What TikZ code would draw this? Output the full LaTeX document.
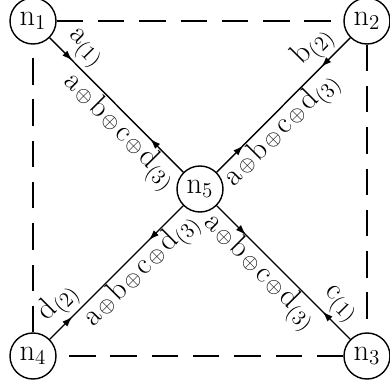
\documentclass[tikz,border=0pt]{standalone}
\usepackage{amsmath,amssymb}
\usepackage{tikz}
\usetikzlibrary{arrows.meta,decorations.markings}

\newcommand{\oplusx}{\mskip1.5mu{\scriptstyle\oplus}\mskip1.5mu}
\newcommand{\sumabcd}{$\mathrm{a}\oplusx\mathrm{b}\oplusx\mathrm{c}\oplusx\mathrm{d}_{(3)}$}

\begin{document}
\begin{tikzpicture}[
    nd/.style={draw, thick, circle, minimum size=0.92cm, inner sep=0pt, font=\LARGE},
    link/.style={draw, thick},
    frame/.style={draw, thick, dash pattern=on 15pt off 8.5pt},
    lbl/.style={sloped, font=\LARGE, inner sep=2pt},
    sumlbl/.style={sloped, font=\LARGE, inner sep=0.5pt},
    twoarr/.style 2 args={postaction={decorate}, decoration={markings,
        mark=at position #1 with {\arrow{Latex[length=6pt,width=4pt]}},
        mark=at position #2 with {\arrow{Latex[length=6pt,width=4pt,reversed]}}}}
]
    \useasboundingbox (0,0) rectangle (7.78,7.84);

    \node[nd] (n1) at (0.66,7.42) {$\mathrm{n}_1$};
    \node[nd] (n2) at (7.34,7.42) {$\mathrm{n}_2$};
    \node[nd] (n3) at (7.34,0.72) {$\mathrm{n}_3$};
    \node[nd] (n4) at (0.66,0.72) {$\mathrm{n}_4$};
    \node[nd] (n5) at (4.00,4.06) {$\mathrm{n}_5$};

    % outer square
    \draw[frame] (n1) -- (n2);
    \draw[frame] (n2) -- (n3);
    \draw[frame] (n3) -- (n4);
    \draw[frame] (n4) -- (n1);

    % links to the relay
    \draw[link, twoarr={0.17}{0.81}] (n1) -- (n5)
        node[lbl, pos=0.17, above] {$\mathrm{a}_{(1)}$}
        node[sumlbl, pos=0.61, below] {\sumabcd};
    \draw[link, twoarr={0.17}{0.80}] (n4) -- (n5)
        node[lbl, pos=0.17, above] {$\mathrm{d}_{(2)}$}
        node[sumlbl, pos=0.60, below] {\sumabcd};
    \draw[link, twoarr={0.20}{0.84}] (n5) -- (n2)
        node[lbl, pos=0.83, above] {$\mathrm{b}_{(2)}$}
        node[sumlbl, pos=0.40, below] {\sumabcd};
    \draw[link, twoarr={0.22}{0.85}] (n5) -- (n3)
        node[lbl, pos=0.83, above] {$\mathrm{c}_{(1)}$}
        node[sumlbl, pos=0.41, below] {\sumabcd};
\end{tikzpicture}
\end{document}
